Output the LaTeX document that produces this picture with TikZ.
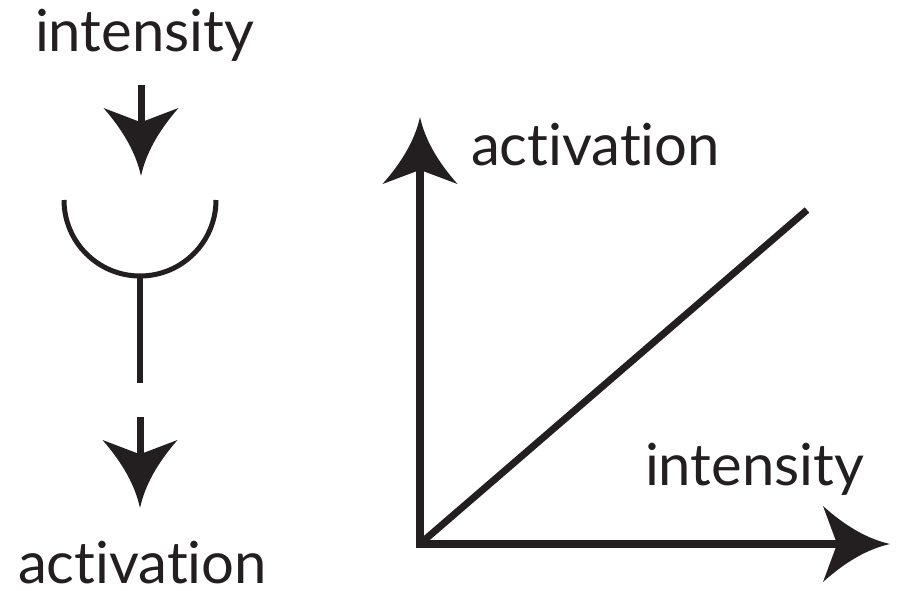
\documentclass[tikz,border=0pt]{standalone}
\usepackage{fontspec}
\setmainfont[Ligatures={NoCommon}]{Lato}
\usetikzlibrary{arrows.meta}
\definecolor{ink}{HTML}{231F20}
\pgfdeclarearrow{
  name = Curvy,
  parameters = {\the\pgfarrowlength,\the\pgfarrowwidth},
  setup code = {
    \pgfarrowssettipend{0pt}
    \pgfarrowssetbackend{-\pgfarrowlength}
    \pgfarrowssetlineend{-0.7\pgfarrowlength}
    \pgfarrowssavethe\pgfarrowlength
    \pgfarrowssavethe\pgfarrowwidth
  },
  drawing code = {
    \pgfpathmoveto{\pgfqpoint{0pt}{0pt}}
    \pgfpathcurveto{\pgfqpoint{-0.33\pgfarrowlength}{0.065\pgfarrowwidth}}{\pgfqpoint{-0.66\pgfarrowlength}{0.23\pgfarrowwidth}}{\pgfqpoint{-\pgfarrowlength}{0.5\pgfarrowwidth}}
    \pgfpathlineto{\pgfqpoint{-0.79\pgfarrowlength}{0pt}}
    \pgfpathlineto{\pgfqpoint{-\pgfarrowlength}{-0.5\pgfarrowwidth}}
    \pgfpathcurveto{\pgfqpoint{-0.66\pgfarrowlength}{-0.23\pgfarrowwidth}}{\pgfqpoint{-0.33\pgfarrowlength}{-0.065\pgfarrowwidth}}{\pgfqpoint{0pt}{0pt}}
    \pgfpathclose
    \pgfusepathqfill
  },
  defaults = {length=68pt, width=75pt}
}
\tikzset{
  lbl/.style={anchor=base west, inner sep=0pt, outer sep=0pt, text=ink, font=\fontsize{58}{60}\selectfont},
  flow/.style={draw=ink, line width=7pt, -{Curvy[length=68pt,width=75pt]}},
  thin/.style={draw=ink, line width=5pt},
  axis/.style={draw=ink, line width=8.5pt, line join=miter, {Curvy[length=67pt,width=75pt]}-{Curvy[length=67pt,width=76pt]}},
  graph/.style={draw=ink, line width=7pt},
}
\begin{document}
\begin{tikzpicture}[x=1pt,y=-1pt]
\useasboundingbox (0,0) rectangle (899,591);
% left chain
\node[lbl] (inTop) at (35,52) {intensity};
\node[lbl] (actBot) at (18,583) {activation};
\coordinate (a1s) at (141,85);
\coordinate (a1e) at (141,176);
\draw[flow] (a1s) -- (a1e);
\coordinate (cupL) at (64,200);
\coordinate (cupB) at (140,276);
\coordinate (stemE) at (140,383);
\draw[thin] (cupL) arc[start angle=180, end angle=0, radius=76];
\draw[thin, line width=6pt] (cupB) -- (stemE);
\coordinate (a2s) at (140,417);
\coordinate (a2e) at (140,508);
\draw[flow] (a2s) -- (a2e);
% right graph
\node[lbl] (actR) at (471,165) {activation};
\node[lbl] (inR) at (645,485) {intensity};
\coordinate (ytip) at (420,117);
\coordinate (orig) at (420,544);
\coordinate (xtip) at (890,544);
\draw[axis] (ytip) -- (orig) -- (xtip);
\coordinate (d0) at (421,543);
\coordinate (d1) at (807,210);
\draw[graph] (d0) -- (d1);
\end{tikzpicture}
\end{document}
